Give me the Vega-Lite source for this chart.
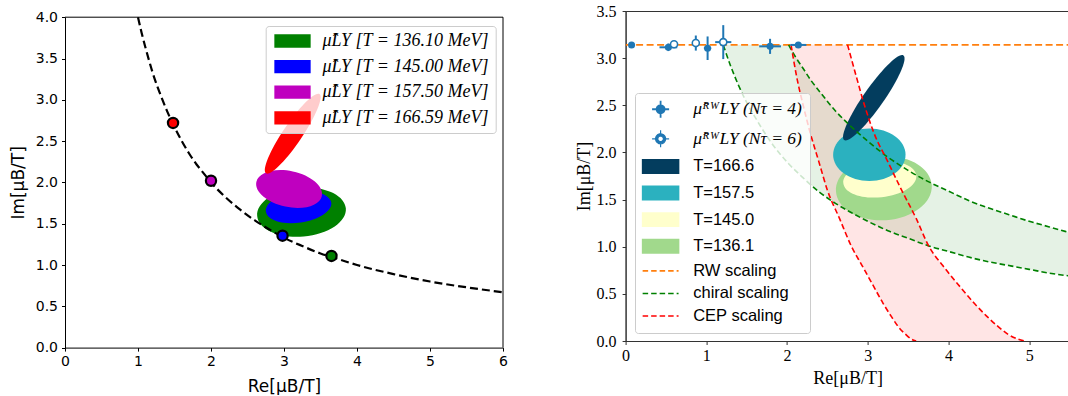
{
"$schema": "https://vega.github.io/schema/vega-lite/v6.json",
"autosize": {"type": "pad"},
"padding": {"left": 9, "top": 2, "right": 0, "bottom": 0},
"bounds": "flush",
"spacing": 122.6,
"background": "white",
"resolve": {"scale": {"color": "independent", "x": "independent", "y": "independent"}, "legend": {"color": "independent"}},
"config": {
  "view": {"stroke": null},
  "axis": {"grid": false, "domainColor": "black", "tickColor": "black", "labelColor": "black", "titleColor": "black", "titleFontWeight": "normal", "tickSize": 3.5, "tickWidth": 1, "domainWidth": 1, "labelFlush": false, "labelOverlap": false, "labelBound": false},
  "legend": {"labelLimit": 400}
},
"datasets": {
  "err": [
    {"s": "N4", "x": 0.074, "y": 3.14, "xlo": 0.074, "xhi": 0.074, "ylo": 3.14, "yhi": 3.14},
    {"s": "N4", "x": 0.53, "y": 3.115, "xlo": 0.42, "xhi": 0.64, "ylo": 3.075, "yhi": 3.155},
    {"s": "N4", "x": 1.016, "y": 3.105, "xlo": 0.97, "xhi": 1.06, "ylo": 2.98, "yhi": 3.23},
    {"s": "N4", "x": 1.79, "y": 3.125, "xlo": 1.655, "xhi": 1.925, "ylo": 3.045, "yhi": 3.205},
    {"s": "N4", "x": 2.14, "y": 3.14, "xlo": 2.04, "xhi": 2.24, "ylo": 3.11, "yhi": 3.17},
    {"s": "N6", "x": 0.6, "y": 3.147, "xlo": 0.55, "xhi": 0.65, "ylo": 3.12, "yhi": 3.175},
    {"s": "N6", "x": 0.87, "y": 3.16, "xlo": 0.84, "xhi": 0.9, "ylo": 3.08, "yhi": 3.24},
    {"s": "N6", "x": 1.21, "y": 3.17, "xlo": 1.11, "xhi": 1.31, "ylo": 2.99, "yhi": 3.35}
  ]
},
"hconcat": [
{
  "width": 438, "height": 336.6,
  "view": {"stroke": null},
  "encoding": {
    "x": {"field": "x", "type": "quantitative", "scale": {"domain": [0, 6], "nice": false, "zero": false},
      "axis": {"title": "Re[μB/T]", "values": [0, 1, 2, 3, 4, 5, 6], "format": "d", "labelFont": "DejaVu Sans", "labelFontSize": 14, "titleFont": "DejaVu Sans", "titleFontSize": 17, "labelPadding": 3, "titlePadding": 10}},
    "y": {"field": "y", "type": "quantitative", "scale": {"domain": [0, 4], "range": [336.6, 6.2], "nice": false, "zero": false},
      "axis": {"title": "Im[μB/T]", "values": [0, 0.5, 1, 1.5, 2, 2.5, 3, 3.5, 4], "format": ".1f", "labelFont": "DejaVu Sans", "labelFontSize": 14, "titleFont": "DejaVu Sans", "titleFontSize": 17, "labelPadding": 4, "titlePadding": 8, "titleY": 171.4}}
  },
  "layer": [
    {"data": {"values": [{"T": "136.10", "x": 3.24, "y": 1.64}]},
     "mark": {"type": "point", "shape": "M-1,0A1,0.55,0,1,0,1,0A1,0.55,0,1,0,-1,0Z", "size": 7921, "angle": -5, "filled": true, "opacity": 1, "strokeWidth": 0},
     "encoding": {"color": {"field": "T", "type": "nominal",
        "scale": {"domain": ["136.10", "145.00", "157.50", "166.59"], "range": ["#008000", "#0000ff", "#bf00bf", "#ff0000"]},
        "legend": {"orient": "none", "legendX": 200.7, "legendY": 15, "title": null, "padding": 6, "rowPadding": 7.6,
          "symbolType": "M-2.73,-1H2.73V1H-2.73Z", "symbolSize": 177, "symbolOffset": 11.8, "labelOffset": 20.9,
          "symbolStrokeWidth": 0, "symbolOpacity": 1, "labelFont": "Liberation Serif", "labelFontStyle": "italic", "labelFontSize": 18, "labelColor": "black",
          "fillColor": "rgba(255,255,255,0.8)", "strokeColor": "#cccccc", "cornerRadius": 3, "labelLimit": 400,
          "labelExpr": "'μ̂LY [T = ' + datum.value + ' MeV]'",
          "encode": {"symbols": {"update": {"stroke": {"value": "transparent"}, "strokeWidth": {"value": 0}, "opacity": {"value": 1}}}}}}}},
    {"data": {"values": [{"T": "145.00", "x": 3.2, "y": 1.7}]},
     "mark": {"type": "point", "shape": "M-1,0A1,0.47,0,1,0,1,0A1,0.47,0,1,0,-1,0Z", "size": 4356, "angle": -8, "filled": true, "opacity": 1, "strokeWidth": 0},
     "encoding": {"color": {"field": "T", "type": "nominal"}}},
    {"data": {"values": [{"T": "157.50", "x": 3.07, "y": 1.92}]},
     "mark": {"type": "point", "shape": "M-1,0A1,0.537,0,1,0,1,0A1,0.537,0,1,0,-1,0Z", "size": 4489, "angle": 12, "filled": true, "opacity": 1, "strokeWidth": 0},
     "encoding": {"color": {"field": "T", "type": "nominal"}}},
    {"data": {"values": [{"T": "166.59", "x": 3.12, "y": 2.59}]},
     "mark": {"type": "point", "shape": "M-1,0A1,0.2,0,1,0,1,0A1,0.2,0,1,0,-1,0Z", "size": 9139, "angle": -56, "filled": true, "opacity": 1, "strokeWidth": 0},
     "encoding": {"color": {"field": "T", "type": "nominal"}}},
    {"data": {"values": [
       {"x": 1.0, "y": 4.0}, {"x": 1.05, "y": 3.81}, {"x": 1.1, "y": 3.64}, {"x": 1.15, "y": 3.48}, {"x": 1.2, "y": 3.33},
       {"x": 1.3, "y": 3.08}, {"x": 1.4, "y": 2.86}, {"x": 1.5, "y": 2.67}, {"x": 1.6, "y": 2.5}, {"x": 1.7, "y": 2.35},
       {"x": 1.8, "y": 2.22}, {"x": 1.9, "y": 2.11}, {"x": 2.0, "y": 2.0}, {"x": 2.2, "y": 1.82}, {"x": 2.4, "y": 1.67},
       {"x": 2.6, "y": 1.54}, {"x": 2.8, "y": 1.43}, {"x": 3.0, "y": 1.33}, {"x": 3.25, "y": 1.23}, {"x": 3.5, "y": 1.14},
       {"x": 3.75, "y": 1.07}, {"x": 4.0, "y": 1.0}, {"x": 4.5, "y": 0.89}, {"x": 5.0, "y": 0.8}, {"x": 5.5, "y": 0.73}, {"x": 6.0, "y": 0.67}]},
     "mark": {"type": "line", "color": "black", "strokeDash": [8, 4], "strokeWidth": 2.2, "interpolate": "monotone"},
     "encoding": {}},
    {"data": {"values": [
       {"T": "166.59", "x": 1.48, "y": 2.72}, {"T": "157.50", "x": 2.0, "y": 2.02},
       {"T": "145.00", "x": 2.98, "y": 1.355}, {"T": "136.10", "x": 3.65, "y": 1.11}]},
     "mark": {"type": "point", "filled": true, "size": 105, "stroke": "black", "strokeWidth": 2.2, "opacity": 1},
     "encoding": {"color": {"field": "T", "type": "nominal"}}},
    {"data": {"values": [{"x": 0, "x2": 6, "y": 4}]},
     "mark": {"type": "rule", "color": "black", "strokeWidth": 1},
     "encoding": {"x2": {"field": "x2"}}},
    {"data": {"values": [{"x": 6, "y": 0, "y2": 4}]},
     "mark": {"type": "rule", "color": "black", "strokeWidth": 1},
     "encoding": {"y2": {"field": "y2"}}}
  ]
},
{
  "width": 443.9, "height": 330,
  "view": {"stroke": "#333333", "strokeWidth": 1},
  "encoding": {
    "x": {"field": "x", "type": "quantitative", "scale": {"domain": [0, 5.5], "nice": false, "zero": false},
      "axis": {"title": "Re[μB/T]", "values": [0, 1, 2, 3, 4, 5], "format": "d", "labelFont": "Liberation Serif", "labelFontSize": 16, "titleFont": "Liberation Serif", "titleFontSize": 18, "labelPadding": 3, "titlePadding": 6, "domainColor": "#333333", "tickColor": "#333333"}},
    "y": {"field": "y", "type": "quantitative", "scale": {"domain": [0, 3.5], "nice": false, "zero": false},
      "axis": {"title": "Im[μB/T]", "values": [0, 0.5, 1, 1.5, 2, 2.5, 3, 3.5], "format": ".1f", "labelFont": "Liberation Serif", "labelFontSize": 16, "titleFont": "Liberation Serif", "titleFontSize": 18, "labelPadding": 6, "titlePadding": 3, "domainColor": "#333333", "tickColor": "#333333"}}
  },
  "layer": [
    {"data": {"values": [
       {"y": 3.1416, "xl": 2.05, "xr": 2.75}, {"y": 2.8, "xl": 2.12, "xr": 2.86}, {"y": 2.5, "xl": 2.2, "xr": 2.96},
       {"y": 2.2, "xl": 2.29, "xr": 3.08}, {"y": 1.9, "xl": 2.395, "xr": 3.25}, {"y": 1.6, "xl": 2.5, "xr": 3.42},
       {"y": 1.3, "xl": 2.65, "xr": 3.6}, {"y": 1.0, "xl": 2.8, "xr": 3.76}, {"y": 0.8, "xl": 2.93, "xr": 3.93},
       {"y": 0.6, "xl": 3.06, "xr": 4.12}, {"y": 0.4, "xl": 3.19, "xr": 4.32}, {"y": 0.25, "xl": 3.3, "xr": 4.49},
       {"y": 0.15, "xl": 3.38, "xr": 4.62}, {"y": 0.07, "xl": 3.47, "xr": 4.74}, {"y": 0.02, "xl": 3.54, "xr": 4.86},
       {"y": 0.0, "xl": 3.6, "xr": 4.95}]},
     "mark": {"type": "area", "orient": "horizontal", "color": "#ff0000", "opacity": 0.1, "clip": true, "interpolate": "monotone"},
     "encoding": {"x": {"field": "xl", "type": "quantitative"}, "x2": {"field": "xr"}}},
    {"data": {"values": [
       {"x": 1.21, "lo": 3.14, "hi": 3.1416}, {"x": 1.3, "lo": 2.92, "hi": 3.1416}, {"x": 1.4, "lo": 2.71, "hi": 3.1416},
       {"x": 1.5, "lo": 2.53, "hi": 3.1416}, {"x": 1.6, "lo": 2.38, "hi": 3.1416}, {"x": 1.8, "lo": 2.11, "hi": 3.1416},
       {"x": 2.02, "lo": 1.88, "hi": 3.1416}, {"x": 2.1, "lo": 1.81, "hi": 3.02}, {"x": 2.2, "lo": 1.73, "hi": 2.89},
       {"x": 2.3, "lo": 1.65, "hi": 2.76}, {"x": 2.4, "lo": 1.58, "hi": 2.65}, {"x": 2.6, "lo": 1.46, "hi": 2.44},
       {"x": 2.8, "lo": 1.36, "hi": 2.27}, {"x": 3.0, "lo": 1.27, "hi": 2.12}, {"x": 3.25, "lo": 1.17, "hi": 1.95},
       {"x": 3.5, "lo": 1.09, "hi": 1.81}, {"x": 3.75, "lo": 1.01, "hi": 1.69}, {"x": 4.0, "lo": 0.95, "hi": 1.59},
       {"x": 4.25, "lo": 0.89, "hi": 1.49}, {"x": 4.5, "lo": 0.84, "hi": 1.41}, {"x": 4.75, "lo": 0.8, "hi": 1.34},
       {"x": 5.0, "lo": 0.76, "hi": 1.27}, {"x": 5.25, "lo": 0.72, "hi": 1.21}, {"x": 5.5, "lo": 0.69, "hi": 1.15}]},
     "mark": {"type": "area", "color": "#008000", "opacity": 0.1, "clip": true},
     "encoding": {"y": {"field": "lo", "type": "quantitative"}, "y2": {"field": "hi"}}},
    {"data": {"values": [{"s": "T136", "x": 3.2, "y": 1.62}]},
     "mark": {"type": "point", "shape": "M-1,0A1,0.667,0,1,0,1,0A1,0.667,0,1,0,-1,0Z", "size": 9216, "angle": -4, "filled": true, "opacity": 1, "strokeWidth": 0},
     "encoding": {"color": {"field": "s", "type": "nominal",
        "scale": {"domain": ["N4", "N6", "T166", "T157", "T145", "T136", "RW", "chiral", "CEP"], "range": ["#1f77b4", "#1f77b4", "#033d5e", "#2bb1bf", "#ffffcc", "#a1d98c", "#ff7f0e", "#008000", "#ff0000"]},
        "legend": {"orient": "none", "legendX": 9.4, "legendY": 82, "title": null, "padding": 8, "rowPadding": 5.6,
          "symbolSize": 177, "symbolOffset": 9.35, "labelOffset": 24.35, "symbolOpacity": 1,
          "labelFont": "Liberation Sans", "labelFontSize": 16.5, "labelColor": "black", "labelLimit": 400,
          "fillColor": "rgba(255,255,255,0.8)", "strokeColor": "#cccccc", "cornerRadius": 3,
          "labelExpr": "['μ̂ᴿᵂLY (Nτ = 4)', 'μ̂ᴿᵂLY (Nτ = 6)', 'T=166.6', 'T=157.5', 'T=145.0', 'T=136.1', 'RW scaling', 'chiral scaling', 'CEP scaling'][indexof(['N4', 'N6', 'T166', 'T157', 'T145', 'T136', 'RW', 'chiral', 'CEP'], datum.value)]",
          "encode": {
            "symbols": {"update": {
              "shape": {"signal": "datum.value === 'N4' ? 'M-1.28,0H-0.6M0.6,0H1.28M0,-1.28V-0.6M0,0.6V1.28M-0.6,0A0.6,0.6,0,1,0,0.6,0A0.6,0.6,0,1,0,-0.6,0Z' : (datum.value === 'N6' ? 'M-1.28,0H-0.75M0.75,0H1.28M0,-1.28V-0.75M0,0.75V1.28M-0.75,0A0.75,0.75,0,1,1,0.75,0A0.75,0.75,0,1,1,-0.75,0ZM-0.42,0A0.42,0.42,0,1,0,0.42,0A0.42,0.42,0,1,0,-0.42,0Z' : (indexof(['RW', 'chiral', 'CEP'], datum.value) >= 0 ? 'M-2.7,0H2.7' : 'M-2.7,-1H2.7V1H-2.7Z'))"},
              "fill": {"signal": "['#1f77b4', '#1f77b4', '#033d5e', '#2bb1bf', '#ffffcc', '#a1d98c', 'transparent', 'transparent', 'transparent'][indexof(['N4', 'N6', 'T166', 'T157', 'T145', 'T136', 'RW', 'chiral', 'CEP'], datum.value)]"},
              "stroke": {"signal": "['#1f77b4', '#1f77b4', 'transparent', 'transparent', 'transparent', 'transparent', '#ff7f0e', '#008000', '#ff0000'][indexof(['N4', 'N6', 'T166', 'T157', 'T145', 'T136', 'RW', 'chiral', 'CEP'], datum.value)]"},
              "strokeWidth": {"signal": "datum.value === 'N4' ? 1.8 : (datum.value === 'N6' ? 1.2 : 1.6)"},
              "strokeDash": {"signal": "indexof(['RW', 'chiral', 'CEP'], datum.value) >= 0 ? [5.5, 3] : [1, 0]"},
              "opacity": {"value": 1}}},
            "labels": {"update": {
              "font": {"signal": "indexof(['N4', 'N6'], datum.value) >= 0 ? 'Liberation Serif' : 'Liberation Sans'"},
              "fontStyle": {"signal": "indexof(['N4', 'N6'], datum.value) >= 0 ? 'italic' : 'normal'"},
              "fontSize": {"signal": "indexof(['N4', 'N6'], datum.value) >= 0 ? 17.5 : 16.5"}}}}}}}},
    {"data": {"values": [{"s": "T145", "x": 3.15, "y": 1.715}]},
     "mark": {"type": "point", "shape": "M-1,0A1,0.49,0,1,0,1,0A1,0.49,0,1,0,-1,0Z", "size": 5388, "angle": -6, "filled": true, "opacity": 1, "strokeWidth": 0},
     "encoding": {"color": {"field": "s", "type": "nominal"}}},
    {"data": {"values": [{"s": "T157", "x": 3.02, "y": 1.975}]},
     "mark": {"type": "point", "shape": "M-1,0A1,0.724,0,1,0,1,0A1,0.724,0,1,0,-1,0Z", "size": 5242, "angle": 0, "filled": true, "opacity": 1, "strokeWidth": 0},
     "encoding": {"color": {"field": "s", "type": "nominal"}}},
    {"data": {"values": [{"s": "T166", "x": 3.075, "y": 2.58}]},
     "mark": {"type": "point", "shape": "M-1,0A1,0.193,0,1,0,1,0A1,0.193,0,1,0,-1,0Z", "size": 10692, "angle": -55, "filled": true, "opacity": 1, "strokeWidth": 0},
     "encoding": {"color": {"field": "s", "type": "nominal"}}},
    {"data": {"values": [{"s": "RW", "x": 0, "y": 3.1416}, {"s": "RW", "x": 5.5, "y": 3.1416}]},
     "mark": {"type": "line", "strokeDash": [7, 3.5], "strokeWidth": 1.8, "clip": true},
     "encoding": {"color": {"field": "s", "type": "nominal"}}},
    {"data": {"values": [
       {"s": "chiral", "x": 1.21, "y": 3.14}, {"s": "chiral", "x": 1.3, "y": 2.92}, {"s": "chiral", "x": 1.4, "y": 2.71},
       {"s": "chiral", "x": 1.5, "y": 2.53}, {"s": "chiral", "x": 1.6, "y": 2.38}, {"s": "chiral", "x": 1.8, "y": 2.11},
       {"s": "chiral", "x": 2.02, "y": 1.88}, {"s": "chiral", "x": 2.2, "y": 1.73}, {"s": "chiral", "x": 2.4, "y": 1.58},
       {"s": "chiral", "x": 2.6, "y": 1.46}, {"s": "chiral", "x": 2.8, "y": 1.36}, {"s": "chiral", "x": 3.0, "y": 1.27},
       {"s": "chiral", "x": 3.25, "y": 1.17}, {"s": "chiral", "x": 3.5, "y": 1.09}, {"s": "chiral", "x": 3.75, "y": 1.01},
       {"s": "chiral", "x": 4.0, "y": 0.95}, {"s": "chiral", "x": 4.25, "y": 0.89}, {"s": "chiral", "x": 4.5, "y": 0.84},
       {"s": "chiral", "x": 4.75, "y": 0.8}, {"s": "chiral", "x": 5.0, "y": 0.76}, {"s": "chiral", "x": 5.25, "y": 0.72},
       {"s": "chiral", "x": 5.5, "y": 0.69}]},
     "mark": {"type": "line", "strokeDash": [5.5, 3], "strokeWidth": 1.6, "clip": true, "interpolate": "monotone"},
     "encoding": {"color": {"field": "s", "type": "nominal"}}},
    {"data": {"values": [
       {"s": "chiral", "x": 2.02, "y": 3.14}, {"s": "chiral", "x": 2.1, "y": 3.02}, {"s": "chiral", "x": 2.2, "y": 2.89},
       {"s": "chiral", "x": 2.3, "y": 2.76}, {"s": "chiral", "x": 2.4, "y": 2.65}, {"s": "chiral", "x": 2.6, "y": 2.44},
       {"s": "chiral", "x": 2.8, "y": 2.27}, {"s": "chiral", "x": 3.0, "y": 2.12}, {"s": "chiral", "x": 3.25, "y": 1.95},
       {"s": "chiral", "x": 3.5, "y": 1.81}, {"s": "chiral", "x": 3.75, "y": 1.69}, {"s": "chiral", "x": 4.0, "y": 1.59},
       {"s": "chiral", "x": 4.25, "y": 1.49}, {"s": "chiral", "x": 4.5, "y": 1.41}, {"s": "chiral", "x": 4.75, "y": 1.34},
       {"s": "chiral", "x": 5.0, "y": 1.27}, {"s": "chiral", "x": 5.25, "y": 1.21}, {"s": "chiral", "x": 5.5, "y": 1.15}]},
     "mark": {"type": "line", "strokeDash": [5.5, 3], "strokeWidth": 1.6, "clip": true, "interpolate": "monotone"},
     "encoding": {"color": {"field": "s", "type": "nominal"}}},
    {"data": {"values": [
       {"s": "CEP", "x": 2.05, "y": 3.1416}, {"s": "CEP", "x": 2.12, "y": 2.8}, {"s": "CEP", "x": 2.2, "y": 2.5},
       {"s": "CEP", "x": 2.29, "y": 2.2}, {"s": "CEP", "x": 2.395, "y": 1.9}, {"s": "CEP", "x": 2.5, "y": 1.6},
       {"s": "CEP", "x": 2.65, "y": 1.3}, {"s": "CEP", "x": 2.8, "y": 1.0}, {"s": "CEP", "x": 2.93, "y": 0.8},
       {"s": "CEP", "x": 3.06, "y": 0.6}, {"s": "CEP", "x": 3.19, "y": 0.4}, {"s": "CEP", "x": 3.3, "y": 0.25},
       {"s": "CEP", "x": 3.38, "y": 0.15}, {"s": "CEP", "x": 3.47, "y": 0.07}, {"s": "CEP", "x": 3.54, "y": 0.02},
       {"s": "CEP", "x": 3.6, "y": 0.0}]},
     "mark": {"type": "line", "strokeDash": [5.5, 3], "strokeWidth": 1.6, "clip": true, "interpolate": "monotone"},
     "encoding": {"color": {"field": "s", "type": "nominal"}}},
    {"data": {"values": [
       {"s": "CEP", "x": 2.75, "y": 3.1416}, {"s": "CEP", "x": 2.86, "y": 2.8}, {"s": "CEP", "x": 2.96, "y": 2.5},
       {"s": "CEP", "x": 3.08, "y": 2.2}, {"s": "CEP", "x": 3.25, "y": 1.9}, {"s": "CEP", "x": 3.42, "y": 1.6},
       {"s": "CEP", "x": 3.6, "y": 1.3}, {"s": "CEP", "x": 3.76, "y": 1.0}, {"s": "CEP", "x": 3.93, "y": 0.8},
       {"s": "CEP", "x": 4.12, "y": 0.6}, {"s": "CEP", "x": 4.32, "y": 0.4}, {"s": "CEP", "x": 4.49, "y": 0.25},
       {"s": "CEP", "x": 4.62, "y": 0.15}, {"s": "CEP", "x": 4.74, "y": 0.07}, {"s": "CEP", "x": 4.86, "y": 0.02},
       {"s": "CEP", "x": 4.95, "y": 0.0}]},
     "mark": {"type": "line", "strokeDash": [5.5, 3], "strokeWidth": 1.6, "clip": true, "interpolate": "monotone"},
     "encoding": {"color": {"field": "s", "type": "nominal"}}},
    {"data": {"name": "err"},
     "mark": {"type": "rule", "strokeWidth": 2},
     "encoding": {"x": {"field": "xlo", "type": "quantitative"}, "x2": {"field": "xhi"}, "color": {"field": "s", "type": "nominal"}}},
    {"data": {"name": "err"},
     "mark": {"type": "rule", "strokeWidth": 2},
     "encoding": {"y": {"field": "ylo", "type": "quantitative"}, "y2": {"field": "yhi"}, "color": {"field": "s", "type": "nominal"}}},
    {"data": {"name": "err"},
     "transform": [{"filter": "datum.s === 'N4'"}],
     "mark": {"type": "point", "filled": true, "size": 50, "opacity": 1, "strokeWidth": 0},
     "encoding": {"color": {"field": "s", "type": "nominal"}}},
    {"data": {"name": "err"},
     "transform": [{"filter": "datum.s === 'N6'"}],
     "mark": {"type": "point", "filled": false, "fill": "#ffffff", "size": 50, "opacity": 1, "strokeWidth": 1.6},
     "encoding": {"color": {"field": "s", "type": "nominal"}}}
  ]
}
]
}
